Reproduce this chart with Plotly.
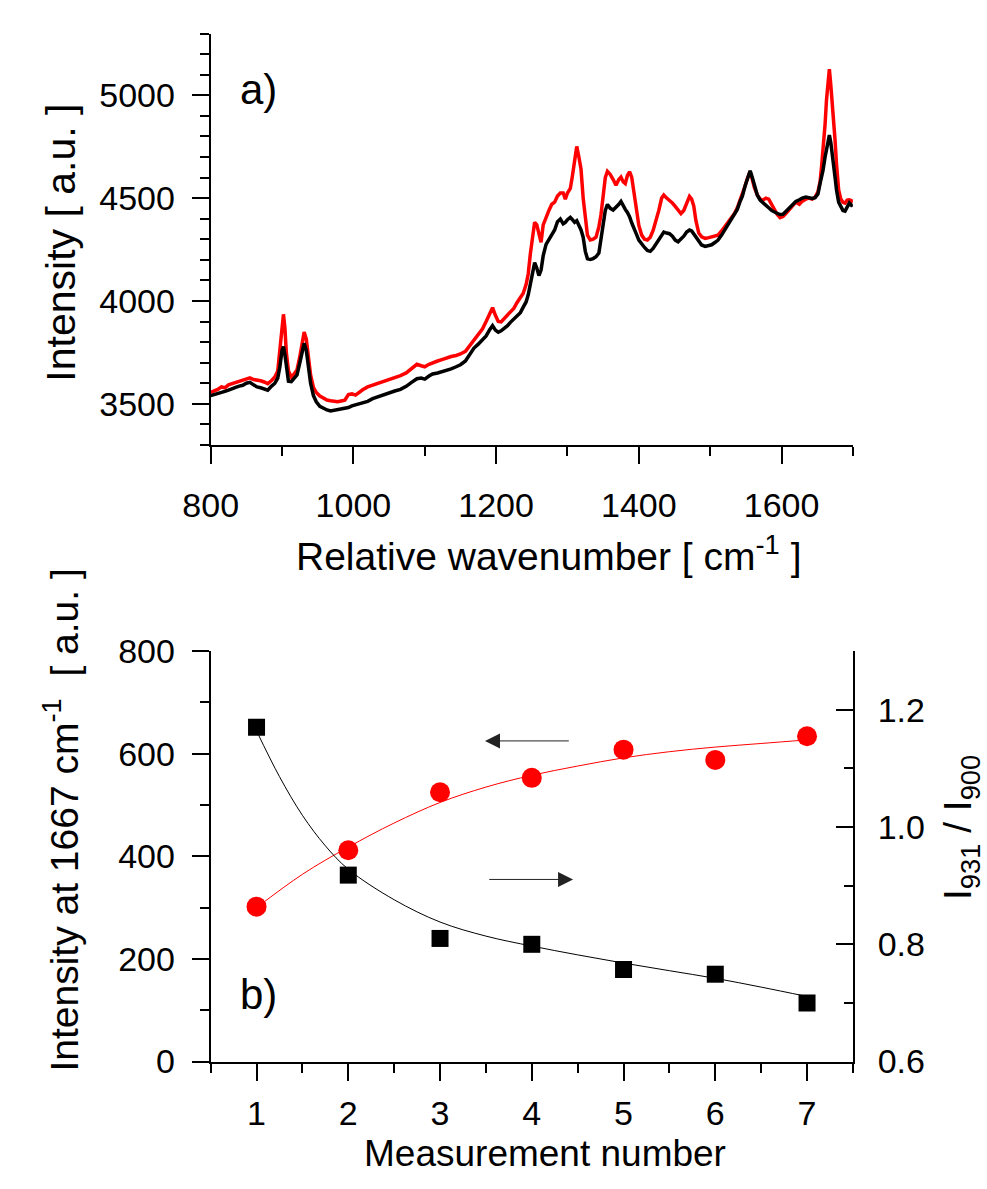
import plotly.graph_objects as go

# ---------------- data: panel a) Raman spectra ----------------
wavenumber = [800, 805, 810, 815, 820, 825, 830, 835, 840, 845, 850, 855, 860, 865, 870, 875, 880, 885, 890, 894,
              897, 900, 902, 904, 906, 909, 913, 917, 921, 925, 928, 931, 934, 937, 940, 944, 948, 953, 958, 963,
              968, 973, 978, 983, 988, 993, 998, 1003, 1008, 1013, 1020, 1027, 1035, 1042, 1050, 1058, 1066, 1074,
              1082, 1089, 1095, 1100, 1106, 1111, 1118, 1124, 1130, 1137, 1144, 1150, 1157, 1163, 1169, 1175, 1181,
              1186, 1191, 1195, 1199, 1203, 1207, 1211, 1216, 1220, 1225, 1229, 1234, 1238, 1242, 1245, 1248, 1251,
              1254, 1257, 1260, 1263, 1266, 1270, 1274, 1278, 1282, 1286, 1290, 1294, 1297, 1300, 1304, 1307, 1310,
              1313, 1316, 1319, 1322, 1325, 1328, 1332, 1336, 1340, 1344, 1347, 1350, 1353, 1356, 1360, 1364, 1368,
              1372, 1375, 1378, 1381, 1384, 1387, 1390, 1393, 1396, 1400, 1404, 1408, 1412, 1416, 1420, 1424, 1428,
              1432, 1435, 1439, 1443, 1447, 1451, 1455, 1459, 1463, 1467, 1471, 1474, 1477, 1480, 1484, 1488, 1493,
              1498, 1502, 1507, 1511, 1516, 1520, 1525, 1529, 1534, 1538, 1542, 1545, 1549, 1552, 1556, 1559, 1562,
              1566, 1570, 1574, 1578, 1582, 1586, 1590, 1594, 1598, 1602, 1606, 1611, 1616, 1620, 1625, 1629, 1634,
              1638, 1643, 1647, 1651, 1654, 1656, 1658, 1661, 1663, 1665, 1667, 1669, 1672, 1675, 1677, 1680, 1683,
              1686, 1689, 1692, 1695, 1698, 1700]

red_spectrum = [3555, 3562, 3570, 3582, 3578, 3592, 3598, 3602, 3608, 3612, 3622, 3626, 3618, 3617, 3612, 3606, 3598,
                3612, 3630, 3660, 3760, 3900, 3935, 3870, 3750, 3660, 3630, 3645, 3665, 3730, 3800, 3849, 3815, 3720,
                3640, 3580, 3555, 3538, 3528, 3518, 3515, 3512, 3510, 3514, 3518, 3545, 3548, 3542, 3556, 3568, 3582,
                3590, 3600, 3606, 3615, 3625, 3637, 3650, 3670, 3692, 3685, 3680, 3692, 3700, 3708, 3715, 3724, 3730,
                3735, 3742, 3755, 3782, 3810, 3833, 3865, 3900, 3935, 3967, 3930, 3900, 3898, 3912, 3928, 3943, 3965,
                3990, 4015, 4037, 4080, 4131, 4230, 4310, 4382, 4370, 4330, 4285, 4370, 4410, 4440, 4470, 4480, 4510,
                4525, 4525, 4495, 4525, 4547, 4610, 4680, 4751, 4700, 4640, 4500, 4400, 4320, 4296, 4300, 4310, 4360,
                4420, 4508, 4600, 4630, 4615, 4590, 4563, 4590, 4602, 4580, 4571, 4610, 4628, 4602, 4530, 4450, 4367,
                4320, 4300, 4296, 4310, 4343, 4390, 4440, 4500, 4515, 4500, 4490, 4476, 4460, 4440, 4425, 4440, 4470,
                4508, 4495, 4461, 4390, 4330, 4312, 4304, 4308, 4312, 4316, 4320, 4340, 4359, 4380, 4398, 4425, 4453,
                4490, 4516, 4560, 4594, 4630, 4590, 4550, 4515, 4495, 4490, 4500, 4495, 4470, 4440, 4420, 4405, 4410,
                4425, 4445, 4470, 4480, 4470, 4485, 4495, 4500, 4495, 4505, 4530, 4580, 4650, 4727, 4860, 4978, 5070,
                5127, 5050, 4931, 4780, 4665, 4540, 4495, 4480, 4476, 4490, 4492, 4485, 4492]

black_spectrum = [3540, 3545, 3548, 3551, 3560, 3566, 3575, 3580, 3586, 3590, 3600, 3604, 3592, 3582, 3578, 3572, 3566,
                  3585, 3600, 3625, 3680, 3760, 3778, 3740, 3680, 3610, 3608, 3625, 3640, 3700, 3755, 3794, 3760, 3680,
                  3600, 3540, 3510, 3488, 3478, 3470, 3465, 3468, 3472, 3476, 3478, 3482, 3490, 3495, 3500, 3505, 3512,
                  3525, 3535, 3545, 3555, 3562, 3570, 3585, 3605, 3622, 3625, 3620, 3635, 3645, 3650, 3655, 3661, 3670,
                  3680, 3690, 3708, 3740, 3771, 3790, 3810, 3830, 3860, 3880, 3858, 3848, 3855, 3865, 3880, 3896, 3915,
                  3930, 3943, 3970, 3995, 4030, 4090, 4150, 4186, 4160, 4123, 4150, 4220, 4275, 4300, 4325, 4345, 4385,
                  4398, 4375, 4382, 4395, 4406, 4395, 4382, 4390, 4370, 4345, 4310, 4241, 4205, 4202, 4206, 4215, 4233,
                  4300, 4370, 4440, 4469, 4450, 4442, 4455, 4470, 4484, 4460, 4445, 4430, 4410, 4380, 4359, 4330, 4296,
                  4275, 4260, 4245, 4241, 4255, 4275, 4296, 4320, 4335, 4330, 4327, 4315, 4296, 4288, 4300, 4315, 4335,
                  4345, 4340, 4325, 4310, 4290, 4272, 4265, 4270, 4273, 4285, 4296, 4320, 4343, 4365, 4390, 4418, 4445,
                  4485, 4508, 4560, 4590, 4633, 4600, 4560, 4515, 4490, 4476, 4465, 4453, 4440, 4430, 4425, 4420, 4421,
                  4435, 4453, 4470, 4484, 4492, 4500, 4505, 4500, 4498, 4502, 4520, 4571, 4600, 4633, 4700, 4743, 4780,
                  4806, 4770, 4696, 4600, 4539, 4480, 4460, 4440, 4437, 4460, 4476, 4465, 4468]

# ---------------- data: panel b) ----------------
measurement = [1, 2, 3, 4, 5, 6, 7]
intensity_1667 = [302, 412, 525, 553, 608, 588, 634]
ratio_931_900 = [1.170, 0.918, 0.810, 0.800, 0.757, 0.749, 0.700]

fit_red_x = [1, 1.5, 2, 2.5, 3, 3.5, 4, 4.5, 5, 5.5, 6, 6.5, 7]
fit_red_y = [300, 365, 418, 465, 505, 535, 558, 576, 592, 604, 613, 620, 627]
fit_black_x = [1, 1.25, 1.5, 1.75, 2, 2.5, 3, 3.5, 4, 4.5, 5, 5.5, 6, 6.5, 7]
fit_black_y = [1.164, 1.086, 1.020, 0.968, 0.928, 0.876, 0.838, 0.814, 0.797, 0.782, 0.768, 0.755, 0.742, 0.727, 0.711]

x_ticks_a = [800, 1000, 1200, 1400, 1600]
y_ticks_a = [3500, 4000, 4500, 5000]
x_ticks_b = [1, 2, 3, 4, 5, 6, 7]
y_ticks_b_left = [0, 200, 400, 600, 800]
y_ticks_b_right = [0.6, 0.8, 1.0, 1.2]

W, H = 987, 1189
FONT = "Liberation Sans, Arial, sans-serif"
RED = "#ff0000"


def px(x):
    return x / W


def py(y):
    return 1 - y / H


XDOM = [px(188), px(849)]
YDOM_A = [py(440), py(15)]
YDOM_B = [py(1077), py(653)]

fig = go.Figure()

# panel a
fig.add_trace(go.Scatter(x=wavenumber, y=red_spectrum, mode="lines",
                         line=dict(color=RED, width=3.5), xaxis="x", yaxis="y", showlegend=False))
fig.add_trace(go.Scatter(x=wavenumber, y=black_spectrum, mode="lines",
                         line=dict(color="black", width=3.5), xaxis="x", yaxis="y", showlegend=False))

# panel b
fig.add_trace(go.Scatter(x=fit_red_x, y=fit_red_y, mode="lines", line=dict(color=RED, width=1, shape="spline"),
                         xaxis="x2", yaxis="y3", showlegend=False))
fig.add_trace(go.Scatter(x=measurement, y=intensity_1667, mode="markers",
                         marker=dict(symbol="circle", size=20, color=RED),
                         xaxis="x2", yaxis="y3", showlegend=False))
fig.add_trace(go.Scatter(x=fit_black_x, y=fit_black_y, mode="lines", line=dict(color="black", width=1, shape="spline"),
                         xaxis="x2", yaxis="y4", showlegend=False))
fig.add_trace(go.Scatter(x=measurement, y=ratio_931_900, mode="markers",
                         marker=dict(symbol="square", size=17, color="black"),
                         xaxis="x2", yaxis="y4", showlegend=False))

tickfont = dict(family=FONT, size=34, color="black")
common = dict(showgrid=False, zeroline=False, showline=True, linecolor="black", linewidth=2,
              tickcolor="black", tickwidth=2, ticklen=17, tickfont=tickfont)


def minor(dt, side_ticks):
    return dict(dtick=dt, ticks=side_ticks, ticklen=9, tickwidth=2, tickcolor="black", showgrid=False)


fig.update_layout(
    width=W, height=H, margin=dict(l=0, r=0, t=0, b=0),
    paper_bgcolor="white", plot_bgcolor="white",
    font=dict(family=FONT, color="black"),
    # ---- panel a ----
    xaxis=dict(domain=XDOM, anchor="y", range=[800, 1700], tickmode="array", tickvals=x_ticks_a,
               ticks="outside", minor=minor(100, "outside"), ticklabelstandoff=12, **common),
    yaxis=dict(domain=YDOM_A, anchor="x", range=[3300, 5300], tickmode="array", tickvals=y_ticks_a,
               ticks="outside", minor=minor(100, "outside"), ticklabelstandoff=10, **common),
    xaxis3=dict(overlaying="x", anchor="y", side="top", range=[800, 1700], dtick=200, tick0=800,
                ticks="inside", minor=minor(100, "inside"), showticklabels=False, **common),
    yaxis5=dict(overlaying="y", anchor="x", side="right", range=[3300, 5300], dtick=500, tick0=0,
                ticks="inside", minor=minor(100, "inside"), showticklabels=False, **common),
    # ---- panel b ----
    xaxis2=dict(domain=XDOM, anchor="y3", range=[0.5, 7.5], tickmode="array", tickvals=x_ticks_b,
                ticks="outside", minor=minor(0.5, "outside"), ticklabelstandoff=4, **common),
    yaxis3=dict(domain=YDOM_B, anchor="x2", range=[0, 800], tickmode="array", tickvals=y_ticks_b_left,
                ticks="outside", minor=minor(100, "outside"), ticklabelstandoff=10, **common),
    yaxis4=dict(overlaying="y3", anchor="x2", side="right", range=[0.6, 1.3], tickmode="array",
                tickvals=y_ticks_b_right, tickformat=".1f",
                ticks="inside", minor=minor(0.1, "inside"), ticklabelstandoff=16, **common),
    xaxis4=dict(overlaying="x2", anchor="y3", side="top", range=[0.5, 7.5], dtick=1, tick0=0,
                ticks="inside", minor=minor(0.5, "inside"), showticklabels=False, **common),
)

ann = [
    dict(text="Intensity [ a.u. ]", x=px(34), y=py(231), textangle=-90, size=41),
    dict(text="Relative wavenumber [ cm<sup>-1</sup> ]", x=px(536), y=py(552), textangle=0, size=39),
    dict(text="Intensity at 1667 cm<sup>-1</sup> &nbsp;[ a.u. ]", x=px(34), y=py(828), textangle=-90, size=39),
    dict(text="Measurement number", x=px(532), y=py(1172), textangle=0, size=37),
    dict(text="I<sub>931</sub> / I<sub>900</sub>", x=px(960), y=py(835), textangle=-90, size=39),
]
for a in ann:
    fig.add_annotation(xref="paper", yref="paper", showarrow=False, xanchor="center", yanchor="middle",
                       text=a["text"], x=a["x"], y=a["y"], textangle=a["textangle"],
                       font=dict(family=FONT, size=a["size"], color="black"))

fig.add_annotation(xref="paper", yref="paper", x=px(216), y=py(73), text="a)", showarrow=False,
                   xanchor="left", yanchor="middle", font=dict(family=FONT, size=42, color="black"))
fig.add_annotation(xref="paper", yref="paper", x=px(216), y=py(1008), text="b)", showarrow=False,
                   xanchor="left", yanchor="middle", font=dict(family=FONT, size=42, color="black"))

# arrows in panel b
fig.add_annotation(xref="x2", yref="y3", axref="x2", ayref="y3", x=3.49, y=625, ax=4.42, ay=625,
                   text="", showarrow=True, arrowhead=2, arrowsize=3, arrowwidth=1, arrowcolor="#222222")
fig.add_annotation(xref="x2", yref="y3", axref="x2", ayref="y3", x=4.45, y=355, ax=3.52, ay=355,
                   text="", showarrow=True, arrowhead=2, arrowsize=3, arrowwidth=1, arrowcolor="#222222")

fig.write_html("out.html")
